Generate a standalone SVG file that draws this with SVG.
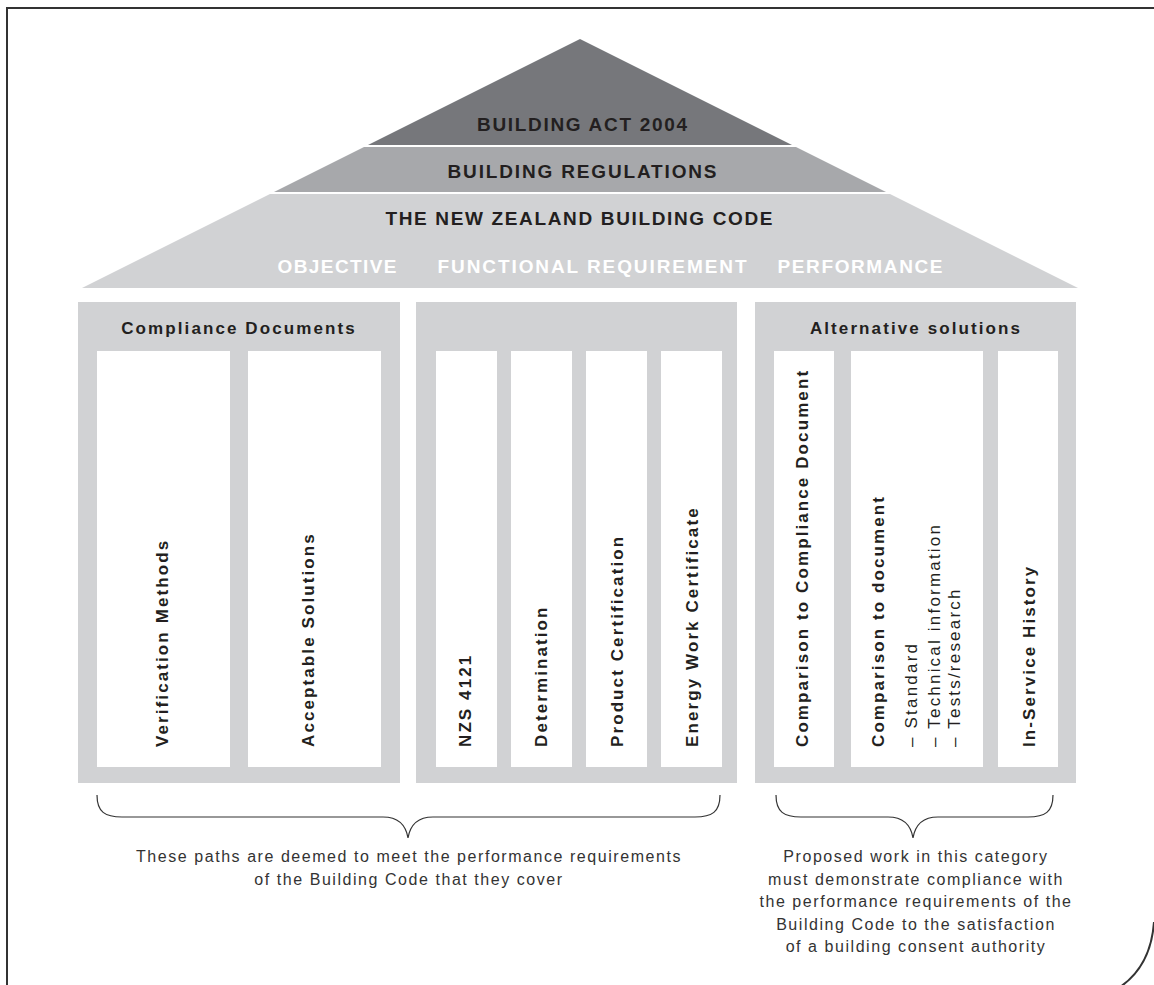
<svg xmlns="http://www.w3.org/2000/svg" width="1154" height="985" viewBox="0 0 1154 985">
<defs>
<style>
.frame{fill:none;stroke:#333;stroke-width:2}
.box{fill:#d1d2d4}
.pillar{fill:#fff}
.tri{font-family:"Liberation Sans",Arial,sans-serif;font-weight:bold;font-size:19px;fill:#231f20;text-anchor:middle}
.row{font-family:"Liberation Sans",Arial,sans-serif;font-weight:bold;font-size:19px;fill:#fff;text-anchor:middle}
.head{font-family:"Liberation Sans",Arial,sans-serif;font-weight:bold;font-size:17px;letter-spacing:2.1px;fill:#231f20;text-anchor:middle}
.vt{font-family:"Liberation Sans",Arial,sans-serif;font-weight:bold;font-size:17px;letter-spacing:2.1px;fill:#231f20}
.vr{font-family:"Liberation Sans",Arial,sans-serif;font-size:17px;letter-spacing:2.2px;fill:#231f20}
.note{font-family:"Liberation Sans",Arial,sans-serif;font-size:16px;letter-spacing:1.55px;fill:#333;text-anchor:middle}
.brace{fill:none;stroke:#333;stroke-width:1.2}
</style>
</defs>
<path class="frame" d="M7,985 L7,8 L1154,8"/>
<path class="frame" d="M1154,922 C1152,950 1142,972 1120,987"/>

<g id="roof">
<polygon points="580,39 792,145 368,145" fill="#76777b"/>
<polygon points="364,147 796,147 886,192 274,192" fill="#a7a8ab"/>
<polygon points="270,194 890,194 1078,288 82,288" fill="#d1d2d4"/>
<text class="tri" x="582" y="131" textLength="210">BUILDING ACT 2004</text>
<text class="tri" x="582" y="178" textLength="269">BUILDING REGULATIONS</text>
<text class="tri" x="579" y="225" textLength="387">THE NEW ZEALAND BUILDING CODE</text>
<text class="row" x="337" y="273" textLength="119">OBJECTIVE</text>
<text class="row" x="592" y="273" textLength="309">FUNCTIONAL REQUIREMENT</text>
<text class="row" x="860" y="273" textLength="165">PERFORMANCE</text>
</g>

<g id="compliance-documents">
<rect class="box" x="78" y="302" width="322" height="481"/>
<text class="head" x="239" y="334">Compliance Documents</text>
<rect class="pillar" x="97" y="351" width="133" height="416"/>
<rect class="pillar" x="248" y="351" width="133" height="416"/>
<text class="vt" transform="translate(168,747) rotate(-90)">Verification Methods</text>
<text class="vt" transform="translate(314,747) rotate(-90)">Acceptable Solutions</text>
</g>

<g id="other-paths">
<rect class="box" x="416" y="302" width="321" height="481"/>
<rect class="pillar" x="436" y="351" width="61" height="416"/>
<rect class="pillar" x="511" y="351" width="61" height="416"/>
<rect class="pillar" x="586" y="351" width="61" height="416"/>
<rect class="pillar" x="661" y="351" width="61" height="416"/>
<text class="vt" transform="translate(471,747) rotate(-90)">NZS 4121</text>
<text class="vt" transform="translate(547,747) rotate(-90)">Determination</text>
<text class="vt" transform="translate(623,747) rotate(-90)">Product Certification</text>
<text class="vt" transform="translate(698,747) rotate(-90)">Energy Work Certificate</text>
</g>

<g id="alternative-solutions">
<rect class="box" x="755" y="302" width="321" height="481"/>
<text class="head" x="916" y="334">Alternative solutions</text>
<rect class="pillar" x="774" y="351" width="60" height="416"/>
<rect class="pillar" x="851" y="351" width="132" height="416"/>
<rect class="pillar" x="998" y="351" width="60" height="416"/>
<text class="vt" transform="translate(808,747) rotate(-90)">Comparison to Compliance Document</text>
<text class="vt" transform="translate(884,747) rotate(-90)">Comparison to document</text>
<text class="vr" transform="translate(917,747) rotate(-90)">– Standard</text>
<text class="vr" transform="translate(940,747) rotate(-90)">– Technical information</text>
<text class="vr" transform="translate(960,747) rotate(-90)">– Tests/research</text>
<text class="vt" transform="translate(1035,747) rotate(-90)">In-Service History</text>
</g>

<g id="connectors">
<path class="brace" d="M97,795 C97,812 105,817 122,817 L383,817 C400,817 406,826 408,838 C410,826 416,817 433,817 L695,817 C712,817 720,812 720,795"/>
<path class="brace" d="M776,795 C776,812 784,817 801,817 L888,817 C905,817 911,826 913,838 C915,826 921,817 938,817 L1028,817 C1045,817 1053,812 1053,795"/>
</g>

<g id="note-left">
<text class="note" x="409" y="862">These paths are deemed to meet the performance requirements</text>
<text class="note" x="409" y="884.5">of the Building Code that they cover</text>
</g>
<g id="note-right">
<text class="note" x="916" y="862">Proposed work in this category</text>
<text class="note" x="916" y="884.5">must demonstrate compliance with</text>
<text class="note" x="916" y="907">the performance requirements of the</text>
<text class="note" x="916" y="929.5">Building Code to the satisfaction</text>
<text class="note" x="916" y="952">of a building consent authority</text>
</g>
</svg>
